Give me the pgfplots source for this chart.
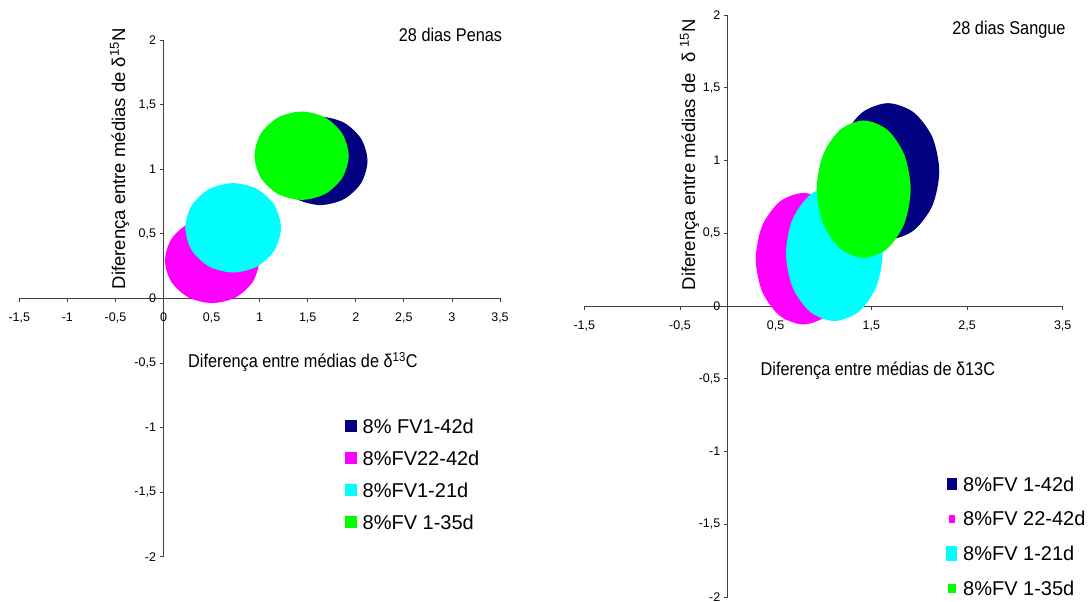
\documentclass[border=0pt]{standalone}
\usepackage{fontspec}
\setmainfont{Liberation Sans}
\newfontfamily\narrowfont[FakeStretch=0.88]{Liberation Sans}
\usepackage{pgfplots}
\pgfplotsset{compat=1.18}
\definecolor{cnavy}{RGB}{0,0,128}
\definecolor{cmag}{RGB}{255,0,255}
\definecolor{ccyan}{RGB}{0,255,255}
\definecolor{cgreen}{RGB}{0,255,0}
\pgfplotsset{
  myaxis/.style={
    scale only axis,
    axis lines=middle,
    x axis line style={-},
    y axis line style={-},
    axis line style={black!75, line width=0.9pt},
    xmin=-1.5, xmax=3.5, ymin=-2, ymax=2,
    enlargelimits=false, clip=false,
    tick align=outside, major tick length=4pt,
    tick style={black!75, line width=0.8pt},
    hide obscured x ticks=false, hide obscured y ticks=false,
    ytick={-2,-1.5,-1,-0.5,0,0.5,1,1.5,2},
    /pgf/number format/use comma,
    /pgf/number format/assume math mode=true,
    tick label style={font=\fontsize{12.5}{13}\selectfont, text=black},
    xticklabel style={yshift=-7pt},
    legend cell align=left,
  },
  mylegend/.style={
    legend style={draw=none, fill=none, inner sep=0pt, row sep=#1, column sep=6pt,
      font=\fontsize{20}{24}\selectfont,
      nodes={inner sep=0pt, text height=14pt, text depth=0pt}},
  },
  ell/.style={fill=#1, draw=none, smooth cycle},
}
\begin{document}
\begin{tikzpicture}
\useasboundingbox (0,0) rectangle (1090pt,602pt);
% ---------------- left panel: 28 dias Penas ----------------
\begin{axis}[myaxis, mylegend=18pt,
  at={(19.3pt,45.3pt)}, anchor=south west,
  width=480.7pt, height=516.7pt,
  xtick={-1.5,-1,-0.5,0,0.5,1,1.5,2,2.5,3,3.5},
  legend style={at={(axis cs:1.882,-0.933)}, anchor=north west},
]
\addplot[ell=cnavy,
  legend image code/.code={\fill[cnavy] (0pt,-6pt) rectangle (12pt,6pt);}]
  coordinates {(2.122,1.064) (2.056,1.235) (1.877,1.360) (1.632,1.406)
    (1.387,1.360) (1.208,1.235) (1.142,1.064) (1.208,0.893)
    (1.387,0.768) (1.632,0.722) (1.877,0.768) (2.056,0.893)};
\addlegendentry{8\% FV1-42d}
\addplot[ell=cmag,
  legend image code/.code={\fill[cmag] (0pt,-6pt) rectangle (12pt,6pt);}]
  coordinates {(0.995,0.293) (0.929,0.458) (0.750,0.579) (0.505,0.623)
    (0.260,0.579) (0.081,0.458) (0.015,0.293) (0.081,0.128)
    (0.260,0.007) (0.505,-0.037) (0.750,0.007) (0.929,0.128)};
\addlegendentry{8\%FV22-42d}
\addplot[ell=ccyan,
  legend image code/.code={\fill[ccyan] (0pt,-6pt) rectangle (12pt,6pt);}]
  coordinates {(1.222,0.546) (1.155,0.719) (0.973,0.846) (0.724,0.892)
    (0.475,0.846) (0.293,0.719) (0.226,0.546) (0.293,0.373)
    (0.475,0.246) (0.724,0.200) (0.973,0.246) (1.155,0.373)};
\addlegendentry{8\%FV1-21d}
\addplot[ell=cgreen,
  legend image code/.code={\fill[cgreen] (0pt,-6pt) rectangle (12pt,6pt);}]
  coordinates {(1.926,1.104) (1.860,1.275) (1.681,1.400) (1.436,1.446)
    (1.191,1.400) (1.012,1.275) (0.946,1.104) (1.012,0.933)
    (1.191,0.808) (1.436,0.762) (1.681,0.808) (1.860,0.933)};
\addlegendentry{8\%FV 1-35d}
\node[anchor=base, font=\narrowfont\fontsize{18.5}{20}\selectfont] at (axis cs:1.45,-0.538) {Diferença entre médias de δ\textsuperscript{13}C};
\node[anchor=base, font=\narrowfont\fontsize{18.5}{20}\selectfont] at (axis cs:2.985,1.985) {28 dias Penas};
\node[rotate=90, font=\fontsize{18.5}{20}\selectfont] at (axis cs:-0.458,1.08) {Diferença entre médias de δ\textsuperscript{15}N};
\end{axis}
% ---------------- right panel: 28 dias Sangue ----------------
\begin{axis}[myaxis, mylegend=20.3pt,
  at={(584.3pt,5pt)}, anchor=south west,
  width=478.4pt, height=582pt,
  xtick={-1.5,-0.5,0.5,1.5,2.5,3.5},
  legend style={at={(axis cs:2.28,-1.177)}, anchor=north west},
]
\addplot[ell=cnavy,
  legend image code/.code={\fill[cnavy] (-5pt,-6pt) rectangle (5pt,6pt);}]
  coordinates {(2.210,0.925) (2.138,1.160) (1.942,1.331) (1.674,1.394)
    (1.406,1.331) (1.210,1.160) (1.138,0.925) (1.210,0.690)
    (1.406,0.519) (1.674,0.456) (1.942,0.519) (2.138,0.690)};
\addlegendentry{8\%FV 1-42d}
\addplot[ell=cmag,
  legend image code/.code={\fill[cmag] (-3pt,-4pt) rectangle (3pt,4pt);}]
  coordinates {(1.286,0.325) (1.219,0.551) (1.038,0.716) (0.789,0.777)
    (0.541,0.716) (0.359,0.551) (0.292,0.325) (0.359,0.099)
    (0.541,-0.066) (0.789,-0.127) (1.038,-0.066) (1.219,0.099)};
\addlegendentry{8\%FV 22-42d}
\addplot[ell=ccyan,
  legend image code/.code={\fill[ccyan] (-5.5pt,-7.5pt) rectangle (5.5pt,7.5pt);}]
  coordinates {(1.618,0.362) (1.550,0.595) (1.366,0.765) (1.113,0.827)
    (0.861,0.765) (0.676,0.595) (0.608,0.362) (0.676,0.130)
    (0.861,-0.041) (1.113,-0.103) (1.366,-0.041) (1.550,0.130)};
\addlegendentry{8\%FV 1-21d}
\addplot[ell=cgreen,
  legend image code/.code={\fill[cgreen] (-4pt,-4.5pt) rectangle (4pt,4.5pt);}]
  coordinates {(1.911,0.803) (1.845,1.039) (1.666,1.212) (1.420,1.275)
    (1.175,1.212) (0.995,1.039) (0.929,0.803) (0.995,0.567)
    (1.175,0.394) (1.420,0.331) (1.666,0.394) (1.845,0.567)};
\addlegendentry{8\%FV 1-35d}
\node[anchor=base, font=\narrowfont\fontsize{18.5}{20}\selectfont] at (axis cs:1.568,-0.477) {Diferença entre médias de δ13C};
\node[anchor=base, font=\narrowfont\fontsize{18.5}{20}\selectfont] at (axis cs:2.938,1.863) {28 dias Sangue};
\node[rotate=90, font=\fontsize{18.5}{20}\selectfont] at (axis cs:-0.40,1.04) {Diferença entre médias de\ \ δ\ \textsuperscript{15}N};
\end{axis}
\end{tikzpicture}
\end{document}
